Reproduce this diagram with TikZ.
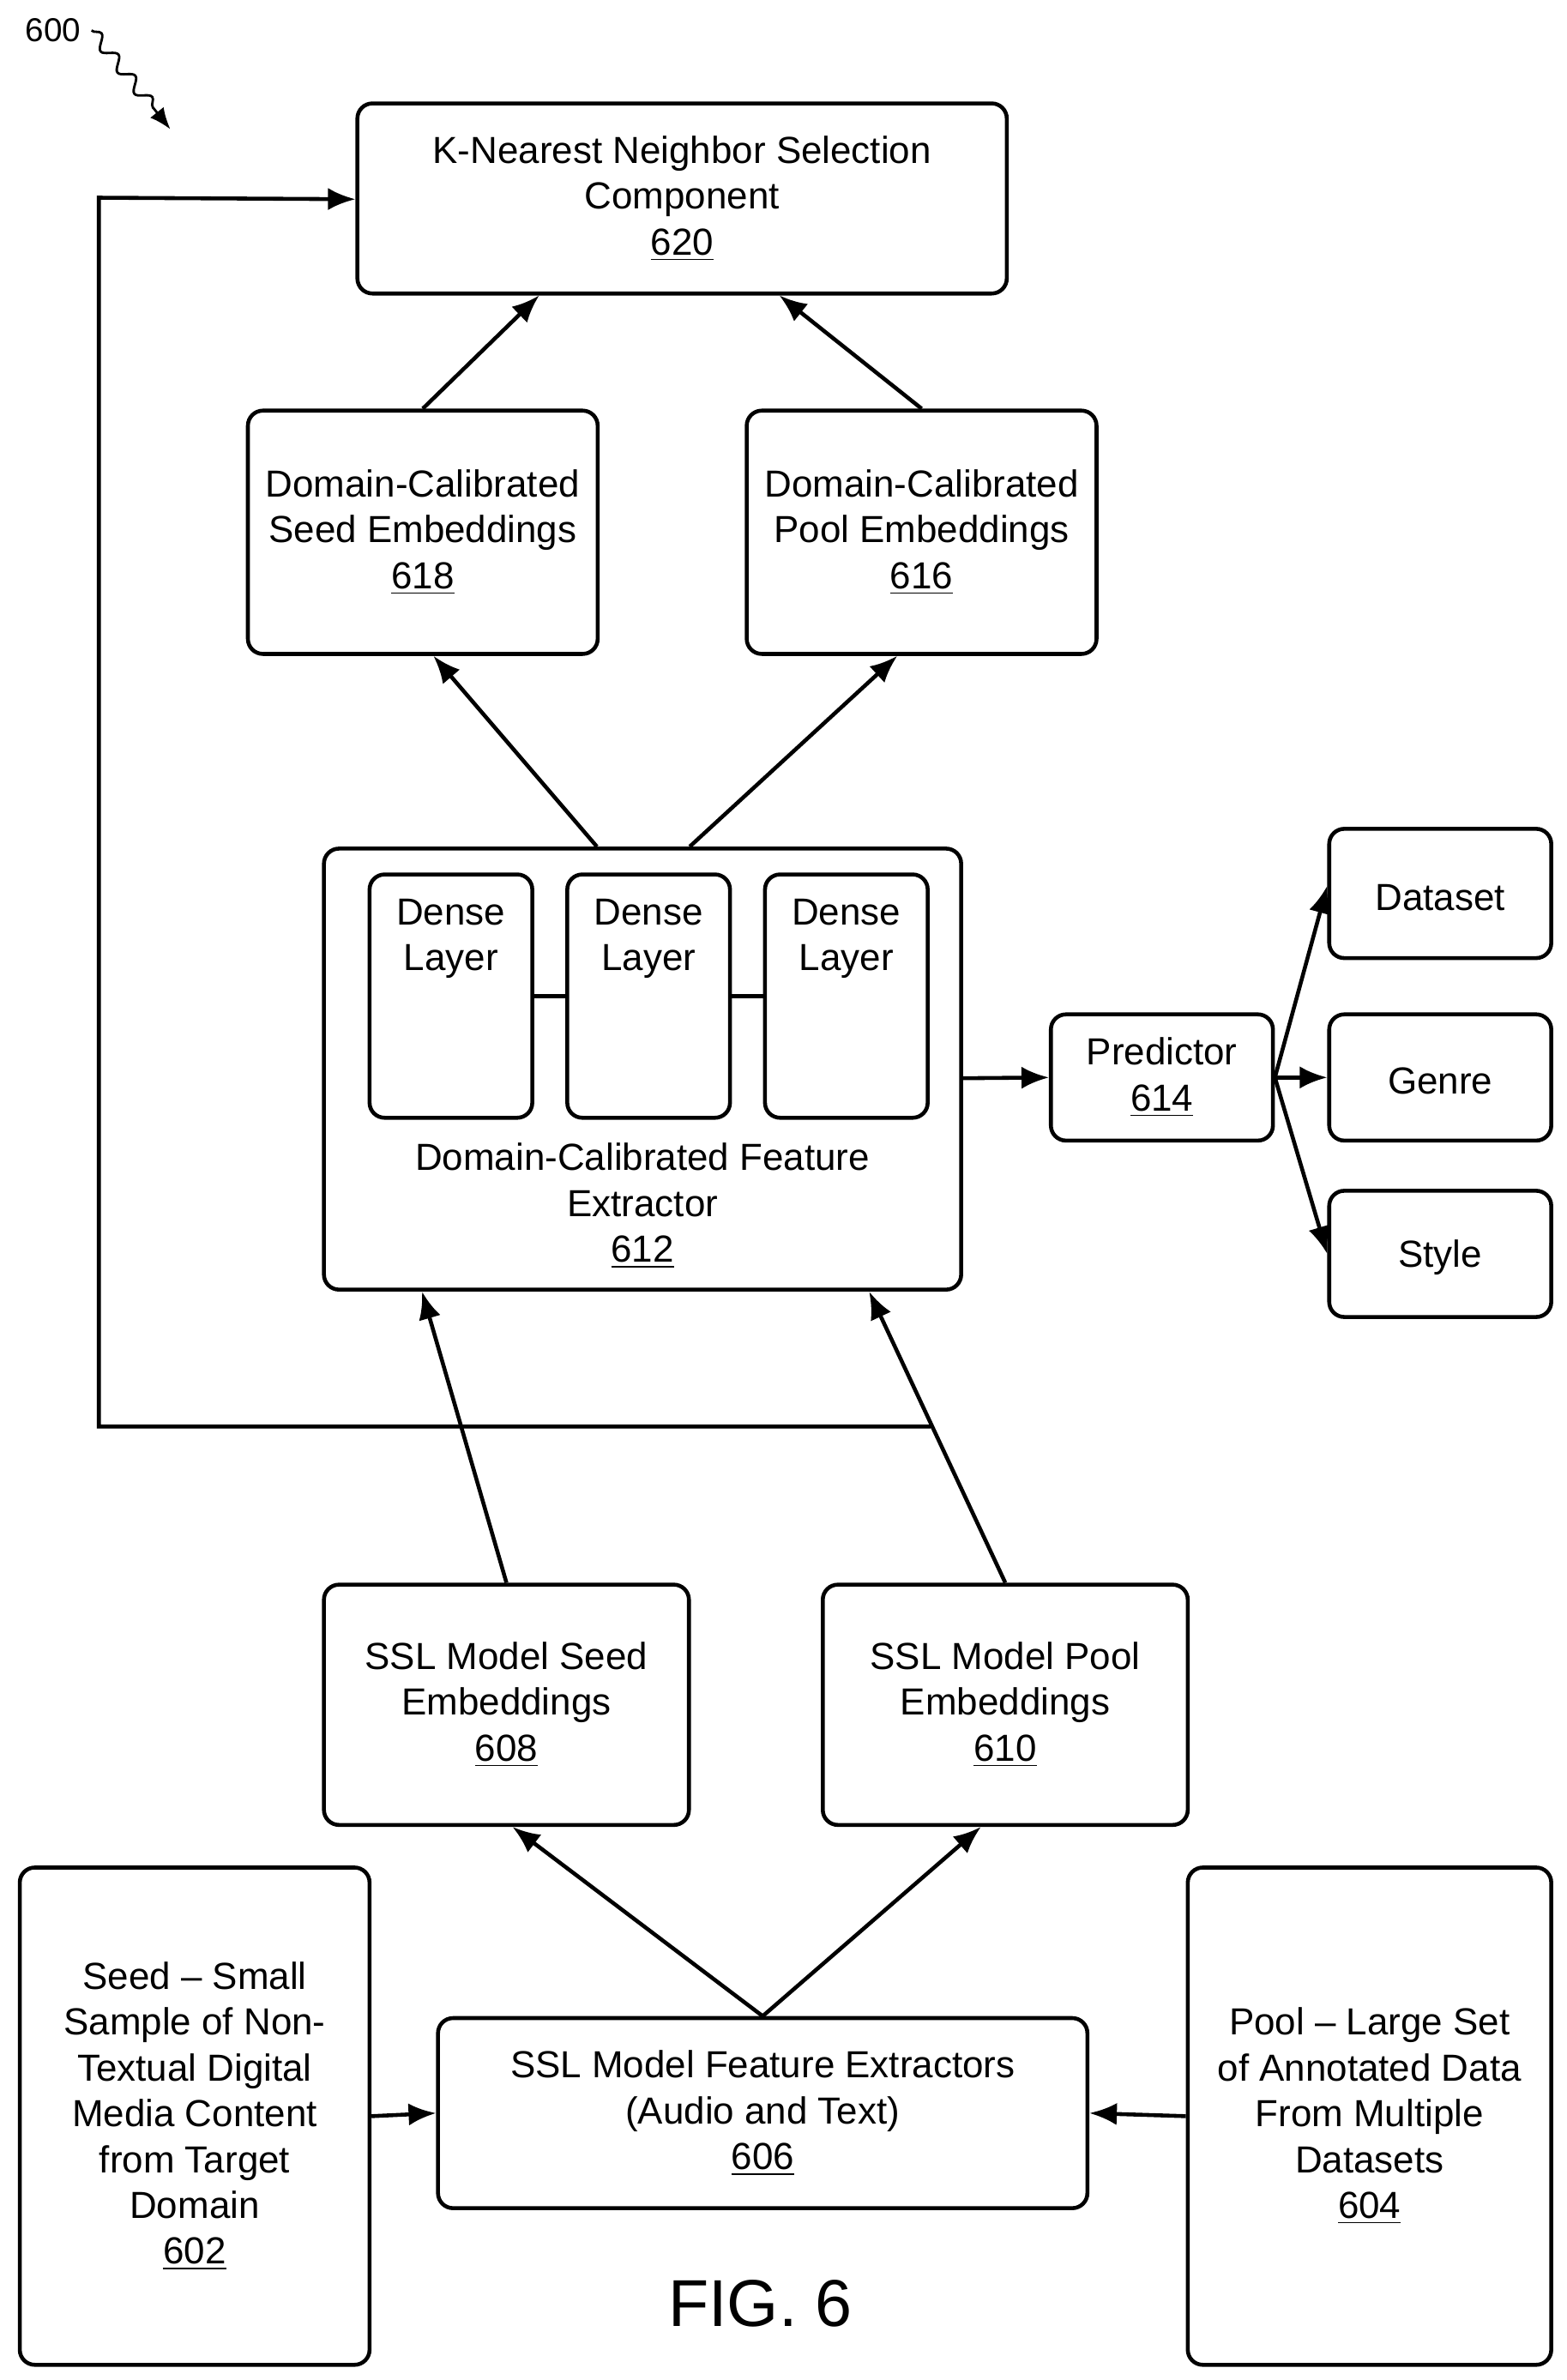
\documentclass[tikz,border=0pt]{standalone}
\usepackage{fontspec}
\setmainfont{Liberation Sans}
\usetikzlibrary{arrows.meta,decorations.pathmorphing}
\def\px{0.01773cm}
\tikzset{
  blk/.style={draw, thick, line width=1.3pt, rounded corners=5pt, align=center,
    font=\fontsize{12.5}{15.2}\selectfont, inner sep=0pt},
  arr/.style={line width=1.3pt, -{Latex[length=0.32cm,width=0.26cm]}},
}
\newcommand{\num}[1]{\underline{#1}}
\begin{document}
\begin{tikzpicture}[x=\px, y=-\px]
	\useasboundingbox (0,0) rectangle (1030,1565);
	% boxes
	\node [blk, minimum width=427*\px, minimum height=125*\px] (n620) at (448.5,130.5) {K-Nearest Neighbor Selection\\Component\\\num{620}};
	\node [blk, minimum width=230*\px, minimum height=160*\px] (n618) at (278,350) {Domain-Calibrated\\Seed Embeddings\\\num{618}};
	\node [blk, minimum width=230*\px, minimum height=160*\px] (n616) at (606,350) {Domain-Calibrated\\Pool Embeddings\\\num{616}};
	\node [blk, minimum width=419*\px, minimum height=290*\px, text depth=0pt] (n612) at (422.5,703) {};
	\node [font=\fontsize{12.5}{15.2}\selectfont, align=center] (t612) at (422.5,793) {Domain-Calibrated Feature\\Extractor\\\num{612}};
	\foreach \i/\x in {1/296.5, 2/426.5, 3/556.5}
		\node [blk, minimum width=107*\px, minimum height=160*\px] (d\i) at (\x,655) {Dense\\Layer\\[0.9cm]};
	\node [blk, minimum width=146*\px, minimum height=83*\px] (n614) at (764,708.5) {Predictor\\\num{614}};
	\node [blk, minimum width=146*\px, minimum height=85*\px] (ds) at (947,587.5) {\\[-4pt]Dataset};
	\node [blk, minimum width=146*\px, minimum height=83*\px] (ge) at (947,708.5) {\\[-4pt]Genre};
	\node [blk, minimum width=146*\px, minimum height=83*\px] (st) at (947,824.5) {\\[-4pt]Style};
	\node [blk, minimum width=240*\px, minimum height=158*\px] (n608) at (333,1121) {SSL Model Seed\\Embeddings\\\num{608}};
	\node [blk, minimum width=240*\px, minimum height=158*\px] (n610) at (661,1121) {SSL Model Pool\\Embeddings\\\num{610}};
	\node [blk, minimum width=230*\px, minimum height=327*\px] (n602) at (128,1391.5) {Seed -- Small\\Sample of Non-\\Textual Digital\\Media Content\\from Target\\Domain\\\num{602}};
	\node [blk, minimum width=427*\px, minimum height=125*\px] (n606) at (501.5,1389.5) {SSL Model Feature Extractors\\(Audio and Text)\\\num{606}};
	\node [blk, minimum width=239*\px, minimum height=327*\px] (n604) at (900.5,1391.5) {Pool -- Large Set\\of Annotated Data\\From Multiple\\Datasets\\\num{604}};
	\node [font=\fontsize{22}{26}\selectfont] (fig) at (500,1515) {FIG. 6};
	\node [font=\fontsize{11}{13}\selectfont] (n600) at (35,20) {600};
	% connectors
	\draw [line width=0.8pt, -{Latex[length=0.25cm,width=0.2cm]}, decorate,
		decoration={snake, amplitude=2pt, segment length=9pt, post length=8pt}] (n600.east) -- (112,85);
	\draw [arr] ([xshift=0*\px]n618.north) -- ([xshift=-94*\px]n620.south);
	\draw [arr] (n616.north) -- ([xshift=64*\px]n620.south);
	\draw [arr] ([xshift=-30*\px]n612.north) -- ([xshift=7*\px]n618.south);
	\draw [arr] ([xshift=31*\px]n612.north) -- ([xshift=-16*\px]n616.south);
	\draw [line width=1.3pt] (d1.east) -- (d2.west) (d2.east) -- (d3.west);
	\draw [arr] ([yshift=-6*\px]n612.east) -- (n614.west);
	\draw [arr] (n614.east) -- ([yshift=5*\px]ds.west);
	\draw [arr] (n614.east) -- (ge.west);
	\draw [arr] (n614.east) -- (st.west);
	\draw [arr] (n608.north) -- ([xshift=-145*\px]n612.south);
	\draw [arr] (n610.north) -- ([xshift=149*\px]n612.south);
	\coordinate (fb) at (612,938);
	\draw [arr] (fb) -- (65,938) -- (65,130) -- ([yshift=-0.5*\px]n620.west);
	\draw [arr] (n606.north) -- ([xshift=4*\px]n608.south);
	\draw [arr] (n606.north) -- ([xshift=-16*\px]n610.south);
	\draw [arr] (n602.east) -- (n606.west);
	\draw [arr] (n604.west) -- (n606.east);
\end{tikzpicture}
\end{document}
